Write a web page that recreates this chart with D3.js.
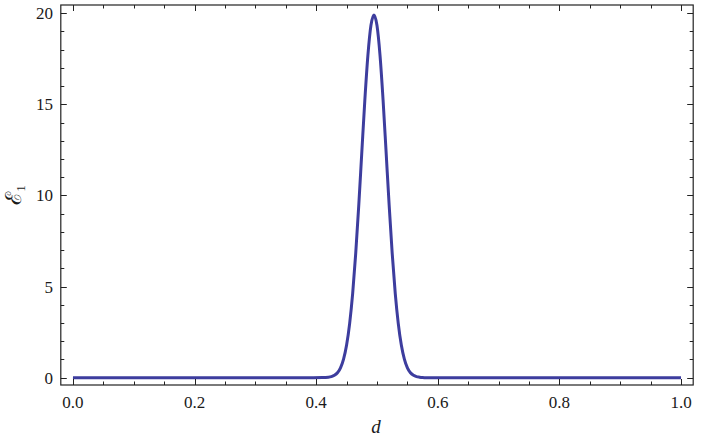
<!DOCTYPE html>
<html>
<head>
<meta charset="utf-8">
<script src="https://cdn.jsdelivr.net/npm/d3@7"></script>
<style>
  body { margin: 0; background: #fff; }
  svg { display: block; }
  text { font-family: 'Liberation Serif', 'Times New Roman', Times, serif; fill: #1a1a1a; }
</style>
</head>
<body>
<svg id="chart" width="702" height="443"></svg>
<script>
// values (d -> E1)
var dValues = [0, 0.1, 0.2, 0.3, 0.38, 0.41, 0.42, 0.425, 0.43, 0.435, 0.44, 0.445, 0.45, 0.455, 0.46,
  0.465, 0.47, 0.475, 0.48, 0.485, 0.49, 0.495, 0.5, 0.505, 0.51, 0.515, 0.52, 0.525, 0.53,
  0.535, 0.54, 0.545, 0.55, 0.555, 0.56, 0.565, 0.57, 0.575, 0.58, 0.59, 0.62, 0.7, 0.8, 0.9, 1];
var e1Values = [0, 0, 0, 0, 0, 0.01, 0.03, 0.06, 0.13, 0.27, 0.54, 1.02, 1.79, 2.97, 4.63,
  6.82, 9.46, 12.36, 15.23, 17.67, 19.32, 19.9, 19.32, 17.67, 15.23, 12.36, 9.46, 6.82, 4.63,
  2.97, 1.79, 1.02, 0.54, 0.27, 0.13, 0.06, 0.03, 0.01, 0, 0, 0, 0, 0, 0, 0];
var xTicks = [0, 0.2, 0.4, 0.6, 0.8, 1.0];
var yTicks = [0, 5, 10, 15, 20];

var svg = d3.select('#chart');
var frameL = 60.8, frameR = 693.2, frameT = 5, frameB = 385;

var x = d3.scaleLinear().domain([-0.02, 1.02]).range([frameL, frameR]);
var y = d3.scaleLinear().domain([-0.4, 20.45]).range([frameB, frameT]);

var xMinor = d3.range(0, 1.0001, 0.05);
var yMinor = d3.range(0, 20.5, 1);

// curve
var line = d3.line()
  .x(function(d) { return x(d[0]); })
  .y(function(d) { return y(d[1]); })
  .curve(d3.curveMonotoneX);

svg.append('defs').append('clipPath').attr('id', 'clip')
  .append('rect').attr('x', frameL).attr('y', frameT).attr('width', frameR - frameL).attr('height', frameB - frameT);

svg.append('path')
  .datum(d3.zip(dValues, e1Values))
  .attr('d', line)
  .attr('clip-path', 'url(#clip)')
  .style('fill', 'none')
  .style('stroke', '#3d3d9e')
  .style('stroke-width', 3)
  .style('stroke-linejoin', 'round');

// ticks on all four sides, pointing inward
var ticks = svg.append('g').style('stroke', '#222').style('stroke-width', 1);
function isMajor(v, step) { return Math.abs(v / step - Math.round(v / step)) < 1e-6; }

xMinor.forEach(function(v) {
  var len = isMajor(v, 0.2) ? 6 : 3.5;
  var px = Math.round(x(v)) + 0.5;
  ticks.append('line').attr('x1', px).attr('x2', px).attr('y1', frameB).attr('y2', frameB - len);
  ticks.append('line').attr('x1', px).attr('x2', px).attr('y1', frameT).attr('y2', frameT + len);
});
yMinor.forEach(function(v) {
  var len = isMajor(v, 5) ? 6 : 3.5;
  var py = Math.round(y(v)) + 0.5;
  ticks.append('line').attr('y1', py).attr('y2', py).attr('x1', frameL).attr('x2', frameL + len);
  ticks.append('line').attr('y1', py).attr('y2', py).attr('x1', frameR).attr('x2', frameR - len);
});

// frame
svg.append('rect')
  .attr('x', frameL).attr('y', frameT)
  .attr('width', frameR - frameL).attr('height', frameB - frameT)
  .style('fill', 'none').style('stroke', '#222').style('stroke-width', 1.2);

// tick labels
svg.append('g').selectAll('text').data(xTicks).enter().append('text')
  .attr('x', function(d) { return x(d); })
  .attr('y', 408)
  .attr('text-anchor', 'middle')
  .style('font-size', '17px')
  .text(function(d) { return d3.format('.1f')(d); });

svg.append('g').selectAll('text').data(yTicks).enter().append('text')
  .attr('x', 53)
  .attr('y', function(d) { return y(d) + 6; })
  .attr('text-anchor', 'end')
  .style('font-size', '17px')
  .text(function(d) { return d; });

// axis titles
svg.append('text')
  .attr('x', 376).attr('y', 433)
  .attr('text-anchor', 'middle')
  .style('font-size', '19px').style('font-style', 'italic')
  .text('d');

var yt = svg.append('text')
  .attr('transform', 'translate(21,195) rotate(-90)')
  .attr('text-anchor', 'middle')
  .style('font-size', '22px');
yt.append('tspan').text('ℰ');
yt.append('tspan').attr('dy', 4).style('font-size', '13px').text('1');
</script>
</body>
</html>
